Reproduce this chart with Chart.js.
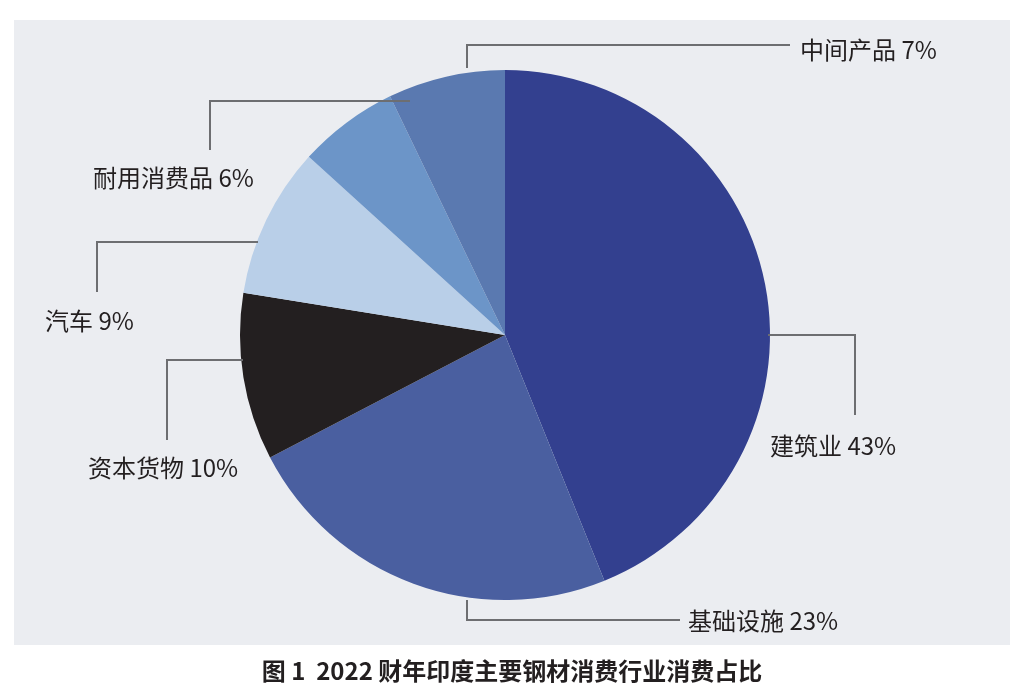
<!DOCTYPE html>
<html><head><meta charset="utf-8">
<script src="https://cdn.jsdelivr.net/npm/chart.js@4/dist/chart.umd.min.js"></script>
<style>
body{margin:0;background:#fff;}
#bg{position:absolute;left:14px;top:20px;width:996px;height:625px;background:#ebedf1;}
#wrap{position:absolute;left:0;top:0;width:1024px;height:697px;}
</style></head><body>
<div id="bg"></div>
<div id="wrap"><canvas id="c" width="1024" height="697"></canvas></div>
<script>
const categories = ["建筑业","基础设施","资本货物","汽车","耐用消费品","中间产品"];
const values = [43,23,10,9,6,7];
const colors = ["#33408f","#4a5fa0","#231f20","#b9cfe8","#6c95c8","#5a79b0"];
const title = "图 1  2022 财年印度主要钢材消费行业消费占比";
// annotation layout: leader path (pixel) and text anchor
const labelLayout = [
  {path:[[768,335],[855,335],[855,415]], tx:770, ty:446, align:"left"},
  {path:[[467,600],[467,620],[680,620]], tx:688, ty:621, align:"left"},
  {path:[[243,360],[167,360],[167,440]], tx:88, ty:468, align:"left"},
  {path:[[258,242],[97,242],[97,292]], tx:45, ty:321, align:"left"},
  {path:[[410,101],[210,101],[210,150]], tx:93, ty:178, align:"left"},
  {path:[[467,68],[467,45],[790,45]], tx:800, ty:50, align:"left"}
];
const labelPlugin = {
  id:"labels",
  afterDraw(chart){
    const ctx = chart.ctx;
    ctx.save();
    ctx.strokeStyle="#6d6e71"; ctx.lineWidth=2;
    ctx.fillStyle="#231f20";
    ctx.font='24px "Noto Sans CJK SC", serif';
    ctx.textBaseline="middle";
    labelLayout.forEach((l,i)=>{
      ctx.beginPath();
      l.path.forEach((p,j)=>j?ctx.lineTo(p[0],p[1]):ctx.moveTo(p[0],p[1]));
      ctx.stroke();
      ctx.textAlign=l.align;
      ctx.fillText(categories[i]+" "+values[i]+"%", l.tx, l.ty);
    });
    ctx.font='bold 24px "Noto Sans CJK SC", sans-serif';
    ctx.textAlign="center";
    ctx.fillText(title, 512, 671);
    ctx.restore();
  }
};
new Chart(document.getElementById("c"),{
  type:"pie",
  data:{labels:categories,datasets:[{data:values,backgroundColor:colors,borderWidth:0}]},
  options:{
    responsive:false,animation:false,
    layout:{padding:{left:240,right:254,top:70,bottom:97}},
    plugins:{legend:{display:false},tooltip:{enabled:false}}
  },
  plugins:[labelPlugin]
});
</script>
</body></html>
